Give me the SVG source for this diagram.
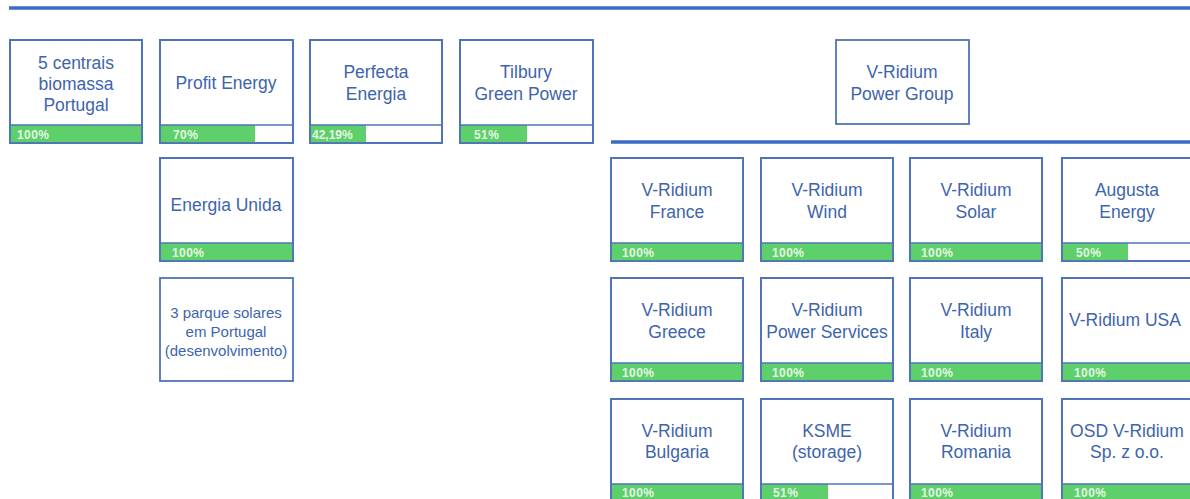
<svg xmlns="http://www.w3.org/2000/svg" width="1190" height="499" viewBox="0 0 1190 499">
<style>
.bx{fill:#fff;stroke:#4f73b8;stroke-width:1.8}
.fr{fill:none;stroke:#4f73b8;stroke-width:1.8}
.bar{fill:#5dcf6b}
.sep{stroke:#4f73b8;stroke-width:1.6}
.t{font-family:"Liberation Sans",Arial,sans-serif;font-size:17.5px;fill:#3d64ad;text-anchor:middle;dominant-baseline:central}
.ts{font-family:"Liberation Sans",Arial,sans-serif;font-size:15px;fill:#3d64ad;text-anchor:middle;dominant-baseline:central}
.p{font-family:"Liberation Sans",Arial,sans-serif;font-size:12px;font-weight:bold;fill:#e4f6e4;letter-spacing:0.4px}
.ln{stroke:#3a6bc6;stroke-width:3.5}
</style>
<rect width="1190" height="499" fill="#fff"/>
<g id="connectors">
<line class="ln" x1="9" y1="8" x2="1190" y2="8"/>
<line class="ln" x1="611" y1="142" x2="1190" y2="142"/>
</g>
<g id="n1"><rect class="bx" x="10" y="40" width="132" height="103"/><rect class="bar" x="10" y="125" width="132" height="18"/><line class="sep" x1="10" y1="125" x2="142" y2="125"/><rect class="fr" x="10" y="40" width="132" height="103"/>
<text class="t" x="76" y="63">5 centrais</text><text class="t" x="76" y="84">biomassa</text><text class="t" x="76" y="105">Portugal</text><text class="p" x="17" y="139">100%</text></g>
<g id="n2"><rect class="bx" x="160" y="40" width="133" height="103"/><rect class="bar" x="160" y="125" width="95" height="18"/><line class="sep" x1="160" y1="125" x2="293" y2="125"/><rect class="fr" x="160" y="40" width="133" height="103"/>
<text class="t" x="226" y="83">Profit Energy</text><text class="p" x="173" y="139">70%</text></g>
<g id="n3"><rect class="bx" x="310" y="40" width="132" height="103"/><rect class="bar" x="310" y="125" width="56" height="18"/><line class="sep" x1="310" y1="125" x2="442" y2="125"/><rect class="fr" x="310" y="40" width="132" height="103"/>
<text class="t" x="376" y="72">Perfecta</text><text class="t" x="376" y="94">Energia</text><text class="p" x="312" y="139" style="letter-spacing:0">42,19%</text></g>
<g id="n4"><rect class="bx" x="460" y="40" width="133" height="103"/><rect class="bar" x="460" y="125" width="67" height="18"/><line class="sep" x1="460" y1="125" x2="593" y2="125"/><rect class="fr" x="460" y="40" width="133" height="103"/>
<text class="t" x="526" y="72">Tilbury</text><text class="t" x="526" y="94">Green Power</text><text class="p" x="474" y="139">51%</text></g>
<g id="root"><rect class="bx" x="836" y="40" width="133" height="84"/>
<text class="t" x="902" y="72">V-Ridium</text><text class="t" x="902" y="94">Power Group</text></g>
<g id="n5"><rect class="bx" x="160" y="158" width="133" height="103"/><rect class="bar" x="160" y="243" width="133" height="18"/><line class="sep" x1="160" y1="243" x2="293" y2="243"/><rect class="fr" x="160" y="158" width="133" height="103"/>
<text class="t" x="226" y="205">Energia Unida</text><text class="p" x="172" y="257">100%</text></g>
<g id="n6"><rect class="bx" x="160" y="278" width="133" height="103"/>
<text class="ts" x="226" y="312">3 parque solares</text><text class="ts" x="226" y="331">em Portugal</text><text class="ts" x="226" y="350">(desenvolvimento)</text></g>
<g id="n7"><rect class="bx" x="611" y="158" width="132" height="103"/><rect class="bar" x="611" y="243" width="132" height="18"/><line class="sep" x1="611" y1="243" x2="743" y2="243"/><rect class="fr" x="611" y="158" width="132" height="103"/>
<text class="t" x="677" y="190">V-Ridium</text><text class="t" x="677" y="212">France</text><text class="p" x="622" y="257">100%</text></g>
<g id="n8"><rect class="bx" x="761" y="158" width="132" height="103"/><rect class="bar" x="761" y="243" width="132" height="18"/><line class="sep" x1="761" y1="243" x2="893" y2="243"/><rect class="fr" x="761" y="158" width="132" height="103"/>
<text class="t" x="827" y="190">V-Ridium</text><text class="t" x="827" y="212">Wind</text><text class="p" x="772" y="257">100%</text></g>
<g id="n9"><rect class="bx" x="910" y="158" width="132" height="103"/><rect class="bar" x="910" y="243" width="132" height="18"/><line class="sep" x1="910" y1="243" x2="1042" y2="243"/><rect class="fr" x="910" y="158" width="132" height="103"/>
<text class="t" x="976" y="190">V-Ridium</text><text class="t" x="976" y="212">Solar</text><text class="p" x="921" y="257">100%</text></g>
<g id="n10"><rect class="bx" x="1062" y="158" width="132" height="103"/><rect class="bar" x="1062" y="243" width="66" height="18"/><line class="sep" x1="1062" y1="243" x2="1194" y2="243"/><rect class="fr" x="1062" y="158" width="132" height="103"/>
<text class="t" x="1127" y="190">Augusta</text><text class="t" x="1127" y="212">Energy</text><text class="p" x="1076" y="257">50%</text></g>
<g id="n11"><rect class="bx" x="611" y="278" width="132" height="103"/><rect class="bar" x="611" y="363" width="132" height="18"/><line class="sep" x1="611" y1="363" x2="743" y2="363"/><rect class="fr" x="611" y="278" width="132" height="103"/>
<text class="t" x="677" y="310">V-Ridium</text><text class="t" x="677" y="332">Greece</text><text class="p" x="622" y="377">100%</text></g>
<g id="n12"><rect class="bx" x="761" y="278" width="132" height="103"/><rect class="bar" x="761" y="363" width="132" height="18"/><line class="sep" x1="761" y1="363" x2="893" y2="363"/><rect class="fr" x="761" y="278" width="132" height="103"/>
<text class="t" x="827" y="310">V-Ridium</text><text class="t" x="827" y="332">Power Services</text><text class="p" x="772" y="377">100%</text></g>
<g id="n13"><rect class="bx" x="910" y="278" width="132" height="103"/><rect class="bar" x="910" y="363" width="132" height="18"/><line class="sep" x1="910" y1="363" x2="1042" y2="363"/><rect class="fr" x="910" y="278" width="132" height="103"/>
<text class="t" x="976" y="310">V-Ridium</text><text class="t" x="976" y="332">Italy</text><text class="p" x="921" y="377">100%</text></g>
<g id="n14"><rect class="bx" x="1062" y="278" width="132" height="103"/><rect class="bar" x="1062" y="363" width="132" height="18"/><line class="sep" x1="1062" y1="363" x2="1194" y2="363"/><rect class="fr" x="1062" y="278" width="132" height="103"/>
<text class="t" x="1125" y="320">V-Ridium USA</text><text class="p" x="1074" y="377">100%</text></g>
<g id="n15"><rect class="bx" x="611" y="399" width="132" height="103"/><rect class="bar" x="611" y="484" width="132" height="18"/><line class="sep" x1="611" y1="484" x2="743" y2="484"/><rect class="fr" x="611" y="399" width="132" height="103"/>
<text class="t" x="677" y="431">V-Ridium</text><text class="t" x="677" y="452">Bulgaria</text><text class="p" x="622" y="497">100%</text></g>
<g id="n16"><rect class="bx" x="761" y="399" width="132" height="103"/><rect class="bar" x="761" y="484" width="67" height="18"/><line class="sep" x1="761" y1="484" x2="893" y2="484"/><rect class="fr" x="761" y="399" width="132" height="103"/>
<text class="t" x="827" y="431">KSME</text><text class="t" x="827" y="452">(storage)</text><text class="p" x="773" y="497">51%</text></g>
<g id="n17"><rect class="bx" x="910" y="399" width="132" height="103"/><rect class="bar" x="910" y="484" width="132" height="18"/><line class="sep" x1="910" y1="484" x2="1042" y2="484"/><rect class="fr" x="910" y="399" width="132" height="103"/>
<text class="t" x="976" y="431">V-Ridium</text><text class="t" x="976" y="452">Romania</text><text class="p" x="921" y="497">100%</text></g>
<g id="n18"><rect class="bx" x="1062" y="399" width="132" height="103"/><rect class="bar" x="1062" y="484" width="132" height="18"/><line class="sep" x1="1062" y1="484" x2="1194" y2="484"/><rect class="fr" x="1062" y="399" width="132" height="103"/>
<text class="t" x="1127" y="431">OSD V-Ridium</text><text class="t" x="1127" y="452">Sp. z o.o.</text><text class="p" x="1074" y="497">100%</text></g>
</svg>
